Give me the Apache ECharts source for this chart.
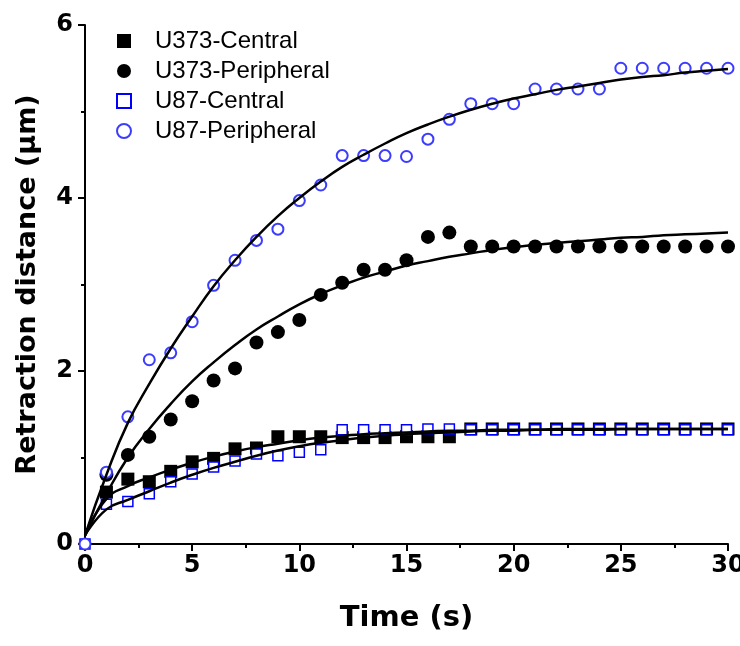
<!DOCTYPE html>
<html>
<head>
<meta charset="utf-8">
<script src="https://cdn.jsdelivr.net/npm/echarts@6/dist/echarts.min.js"></script>
<style>
  html, body { margin: 0; padding: 0; background: #fff; }
  #chart { width: 740px; height: 646px; }
</style>
</head>
<body>
<div id="chart"></div>
<script>
// 数据
var times = [0, 1, 2, 3, 4, 5, 6, 7, 8, 9, 10, 11, 12, 13, 14, 15, 16, 17, 18, 19, 20, 21, 22, 23, 24, 25, 26, 27, 28, 29, 30];
var u373Central = [null, 0.60, 0.75, 0.72, 0.84, 0.95, 0.99, 1.10, 1.11, 1.24, 1.24, 1.24, 1.23, 1.23, 1.23, 1.24, 1.24, 1.24, 1.33, 1.33, 1.33, 1.33, 1.33, 1.33, 1.33, 1.33, 1.33, 1.33, 1.33, 1.33, 1.33];
var u373Peripheral = [null, 0.80, 1.03, 1.24, 1.44, 1.65, 1.89, 2.03, 2.33, 2.45, 2.59, 2.88, 3.02, 3.17, 3.17, 3.28, 3.55, 3.60, 3.44, 3.44, 3.44, 3.44, 3.44, 3.44, 3.44, 3.44, 3.44, 3.44, 3.44, 3.44, 3.44];
var u87Central = [0, 0.46, 0.49, 0.58, 0.72, 0.81, 0.89, 0.96, 1.04, 1.02, 1.06, 1.09, 1.32, 1.32, 1.32, 1.32, 1.33, 1.33, 1.32, 1.32, 1.32, 1.32, 1.32, 1.32, 1.32, 1.32, 1.32, 1.32, 1.32, 1.32, 1.32];
var u87Peripheral = [0, 0.83, 1.47, 2.13, 2.21, 2.57, 2.99, 3.28, 3.51, 3.64, 3.97, 4.15, 4.49, 4.49, 4.49, 4.48, 4.68, 4.91, 5.09, 5.09, 5.09, 5.26, 5.26, 5.26, 5.26, 5.50, 5.50, 5.50, 5.50, 5.50, 5.50];

// 拟合曲线（从图上读取，每秒一个点）
var fitU373Central = [0.10, 0.52, 0.67, 0.77, 0.86, 0.94, 1.01, 1.07, 1.12, 1.16, 1.20, 1.23, 1.25, 1.27, 1.28, 1.29, 1.30, 1.31, 1.31, 1.32, 1.32, 1.32, 1.33, 1.33, 1.33, 1.33, 1.33, 1.33, 1.33, 1.33, 1.33];
var fitU373Peripheral = [0.10, 0.58, 1.00, 1.33, 1.62, 1.88, 2.10, 2.30, 2.48, 2.63, 2.77, 2.89, 2.99, 3.08, 3.15, 3.22, 3.27, 3.32, 3.36, 3.40, 3.43, 3.46, 3.48, 3.50, 3.52, 3.54, 3.55, 3.57, 3.58, 3.59, 3.60];
var fitU87Central = [0.10, 0.40, 0.51, 0.61, 0.71, 0.80, 0.88, 0.95, 1.02, 1.08, 1.13, 1.17, 1.20, 1.23, 1.25, 1.27, 1.28, 1.29, 1.30, 1.31, 1.31, 1.32, 1.32, 1.32, 1.32, 1.33, 1.33, 1.33, 1.33, 1.33, 1.33];
var fitU87Peripheral = [0.10, 0.80, 1.40, 1.85, 2.26, 2.63, 2.98, 3.28, 3.55, 3.79, 4.00, 4.19, 4.36, 4.50, 4.63, 4.75, 4.85, 4.94, 5.02, 5.09, 5.15, 5.20, 5.25, 5.29, 5.33, 5.37, 5.40, 5.42, 5.45, 5.47, 5.49];

var xTicks = [0, 5, 10, 15, 20, 25, 30];
var yTicks = [0, 2, 4, 6];

function pairs(xs, ys) {
  var out = [];
  for (var i = 0; i < xs.length; i++) {
    if (ys[i] !== null) out.push([xs[i], ys[i]]);
  }
  return out;
}

function fitLine(ys) {
  return {
    type: 'line',
    data: pairs(times, ys),
    smooth: true,
    showSymbol: false,
    silent: true,
    z: 5,
    lineStyle: { color: '#000', width: 2.5 }
  };
}

var myChart = echarts.init(document.getElementById('chart'));
var option = {
  animation: false,
  grid: { left: 85, right: 12, top: 25, bottom: 102, outerBoundsMode: 'none' },
  legend: {
    orient: 'vertical',
    left: 111,
    top: 24,
    itemWidth: 14,
    itemHeight: 14,
    itemGap: 6,
    data: [
      { name: 'U373-Central', icon: 'rect' },
      { name: 'U373-Peripheral', icon: 'circle' },
      { name: 'U87-Central' },
      { name: 'U87-Peripheral' }
    ],
    textStyle: {
      fontFamily: 'Liberation Sans',
      fontSize: 24,
      color: '#000',
      lineHeight: 24,
      padding: [0, 0, 0, 19]
    }
  },
  xAxis: {
    type: 'value',
    min: 0,
    max: 30,
    interval: 5,
    name: 'Time (s)',
    nameLocation: 'middle',
    nameGap: 60,
    nameTextStyle: { fontFamily: 'DejaVu Sans', fontWeight: 'bold', fontSize: 29, color: '#000' },
    axisLine: { lineStyle: { color: '#000', width: 2 } },
    axisTick: { length: 7, lineStyle: { color: '#000', width: 2 } },
    minorTick: { show: true, splitNumber: 2, length: 4, lineStyle: { color: '#000', width: 2 } },
    axisLabel: {
      margin: 10,
      fontFamily: 'DejaVu Sans',
      fontWeight: 'bold',
      fontSize: 24,
      color: '#000',
      customValues: xTicks
    },
    splitLine: { show: false }
  },
  yAxis: {
    type: 'value',
    min: 0,
    max: 6,
    interval: 2,
    name: 'Retraction distance (\u03bcm)',
    nameLocation: 'middle',
    nameGap: 44,
    nameTextStyle: { fontFamily: 'DejaVu Sans', fontWeight: 'bold', fontSize: 27, color: '#000' },
    axisLine: { show: true, lineStyle: { color: '#000', width: 2 } },
    axisTick: { show: true, length: 7, lineStyle: { color: '#000', width: 2 } },
    minorTick: { show: true, splitNumber: 2, length: 4, lineStyle: { color: '#000', width: 2 } },
    axisLabel: {
      margin: 12,
      fontFamily: 'DejaVu Sans',
      fontWeight: 'bold',
      fontSize: 24,
      color: '#000',
      customValues: yTicks
    },
    splitLine: { show: false }
  },
  series: [
    {
      name: 'U373-Central',
      type: 'scatter',
      symbol: 'rect',
      symbolSize: 13,
      itemStyle: { color: '#000', opacity: 1 },
      data: pairs(times, u373Central)
    },
    {
      name: 'U373-Peripheral',
      type: 'scatter',
      symbol: 'circle',
      symbolSize: 14,
      itemStyle: { color: '#000', opacity: 1 },
      data: pairs(times, u373Peripheral)
    },
    {
      name: 'U87-Central',
      type: 'scatter',
      symbol: 'rect',
      symbolSize: 10,
      itemStyle: { color: '#fff', borderColor: '#0000ff', borderWidth: 1.5, opacity: 1 },
      data: pairs(times, u87Central)
    },
    {
      name: 'U87-Peripheral',
      type: 'scatter',
      symbol: 'circle',
      symbolSize: 11,
      itemStyle: { color: '#fff', borderColor: '#3c3cff', borderWidth: 2, opacity: 1 },
      data: pairs(times, u87Peripheral)
    },
    fitLine(fitU373Central),
    fitLine(fitU373Peripheral),
    fitLine(fitU87Central),
    fitLine(fitU87Peripheral)
  ]
};
myChart.setOption(option);
window.addEventListener('resize', function() {
  myChart.resize();
});
</script>
</body>
</html>
